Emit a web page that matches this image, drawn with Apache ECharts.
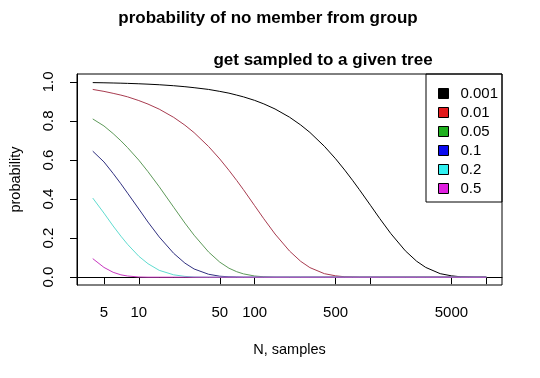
<!DOCTYPE html>
<html>
<head>
<meta charset="utf-8">
<script src="https://cdn.jsdelivr.net/npm/echarts@6/dist/echarts.min.js"></script>
<style>
  html, body { margin: 0; padding: 0; background: #fff; }
  #chart { width: 540px; height: 378px; }
</style>
</head>
<body>
<div id="chart"></div>
<script>
// N (samples)
var samples = [4, 5, 6, 7, 8, 10, 12, 15, 20, 25, 30, 40, 50, 60, 70, 80, 100, 120, 150, 200,
  250, 300, 400, 500, 600, 700, 800, 1000, 1200, 1500, 2000, 2500, 3000, 4000, 5000, 6000, 7000, 8000, 10000];

// group fractions (legend)
var groups = ['0.001', '0.01', '0.05', '0.1', '0.2', '0.5'];

// probability curves, one per group
var p0001 = [0.996, 0.995, 0.994, 0.993, 0.992, 0.990, 0.988, 0.985, 0.980, 0.975, 0.970, 0.961, 0.951, 0.942, 0.932, 0.923, 0.905, 0.887, 0.861, 0.819,
  0.779, 0.741, 0.670, 0.606, 0.548, 0.496, 0.449, 0.368, 0.301, 0.223, 0.135, 0.082, 0.050, 0.018, 0.007, 0.002, 0.001, 0, 0];
var p001 = [0.961, 0.951, 0.941, 0.932, 0.923, 0.904, 0.886, 0.860, 0.818, 0.778, 0.740, 0.669, 0.605, 0.547, 0.495, 0.448, 0.366, 0.299, 0.221, 0.134,
  0.081, 0.049, 0.018, 0.007, 0.002, 0.001, 0, 0, 0, 0, 0, 0, 0, 0, 0, 0, 0, 0, 0];
var p005 = [0.81, 0.774, 0.735, 0.698, 0.663, 0.599, 0.540, 0.463, 0.358, 0.277, 0.215, 0.129, 0.077, 0.046, 0.028, 0.017, 0.006, 0.002, 0, 0,
  0, 0, 0, 0, 0, 0, 0, 0, 0, 0, 0, 0, 0, 0, 0, 0, 0, 0, 0];
var p01 = [0.645, 0.590, 0.531, 0.478, 0.430, 0.349, 0.282, 0.206, 0.122, 0.072, 0.042, 0.015, 0.005, 0.002, 0.001, 0, 0, 0, 0, 0,
  0, 0, 0, 0, 0, 0, 0, 0, 0, 0, 0, 0, 0, 0, 0, 0, 0, 0, 0];
var p02 = [0.405, 0.328, 0.262, 0.210, 0.168, 0.107, 0.069, 0.035, 0.012, 0.004, 0.001, 0, 0, 0, 0, 0, 0, 0, 0, 0,
  0, 0, 0, 0, 0, 0, 0, 0, 0, 0, 0, 0, 0, 0, 0, 0, 0, 0, 0];
var p05 = [0.095, 0.05, 0.025, 0.012, 0.006, 0.001, 0, 0, 0, 0, 0, 0, 0, 0, 0, 0, 0, 0, 0, 0,
  0, 0, 0, 0, 0, 0, 0, 0, 0, 0, 0, 0, 0, 0, 0, 0, 0, 0, 0];

var curves = [p0001, p001, p005, p01, p02, p05];

var xTicks = [5, 10, 50, 100, 500, 1000, 5000, 10000];
var xLabels = [5, 10, 50, 100, 500, 5000];
var yTicks = [0, 0.2, 0.4, 0.6, 0.8, 1.0];

var lineColors = ['#000000', '#a83c50', '#5e9a5a', '#303080', '#60dcd0', '#c838c0'];
var swatchColors = ['#000000', '#e31a1c', '#1fb01f', '#0a0af0', '#30f0f0', '#e020e0'];

var font = 'Liberation Sans, Arial, sans-serif';

var chart = echarts.init(document.getElementById('chart'));

var series = curves.map(function (vals, i) {
  return {
    name: groups[i],
    type: 'line',
    showSymbol: false,
    symbol: 'none',
    animation: false,
    itemStyle: { color: swatchColors[i] },
    lineStyle: { color: lineColors[i], width: 1 },
    data: samples.map(function (n, j) { return [n, vals[j]]; })
  };
});

chart.setOption({
  animation: false,
  backgroundColor: '#fff',
  textStyle: { fontFamily: font },
  grid: {
    left: 74, right: 38, top: 74, bottom: 93,
    show: true, borderColor: '#000', borderWidth: 1, backgroundColor: 'transparent'
  },
  legend: {
    orient: 'vertical',
    left: 433,
    top: 81,
    padding: 5,
    icon: 'rect',
    itemWidth: 10,
    itemHeight: 10,
    itemGap: 4,
    itemStyle: { borderColor: '#000', borderWidth: 1 },
    textStyle: { fontSize: 15, color: '#000', fontFamily: font, lineHeight: 14, padding: [0, 0, 0, 7] },
    data: groups.map(function (g, i) {
      return { name: g, itemStyle: { color: swatchColors[i] } };
    })
  },
  graphic: [
    {
      type: 'text', x: 268, y: 18,
      style: { text: 'probability of no member from group', font: 'bold 17px ' + font, fill: '#000',
        textAlign: 'center', textVerticalAlign: 'middle' }
    },
    {
      type: 'text', x: 323, y: 60,
      style: { text: 'get sampled to a given tree', font: 'bold 17px ' + font, fill: '#000',
        textAlign: 'center', textVerticalAlign: 'middle' }
    },
    {
      type: 'rect',
      shape: { x: 426, y: 74, width: 76, height: 128 },
      style: { fill: 'none', stroke: '#000', lineWidth: 1 },
      z: 10
    }
  ],
  xAxis: {
    type: 'log',
    logBase: 10,
    min: 2.925,
    max: 13670,
    name: 'N, samples',
    nameLocation: 'middle',
    nameGap: 57,
    nameTextStyle: { fontSize: 14.5, color: '#000', fontFamily: font },
    axisLine: { show: true, lineStyle: { color: '#000', width: 1 } },
    axisTick: { show: true, length: 7, lineStyle: { color: '#000' }, customValues: xTicks },
    axisLabel: {
      fontSize: 15, color: '#000', margin: 20, customValues: xLabels,
      formatter: function (v) { return String(Math.round(v)); }
    },
    splitLine: { show: false },
    minorTick: { show: false }
  },
  yAxis: {
    type: 'value',
    min: -0.04,
    max: 1.04,
    name: 'probability',
    nameLocation: 'middle',
    nameGap: 54,
    nameTextStyle: { fontSize: 14.5, color: '#000', fontFamily: font },
    axisLine: { show: true, lineStyle: { color: '#000', width: 1 } },
    axisTick: { show: true, length: 7, lineStyle: { color: '#000' }, customValues: yTicks },
    axisLabel: {
      fontSize: 15, color: '#000', margin: 21, rotate: 90, customValues: yTicks,
      formatter: function (v) { return v.toFixed(1); }
    },
    splitLine: { show: false }
  },
  series: series
});
</script>
</body>
</html>
